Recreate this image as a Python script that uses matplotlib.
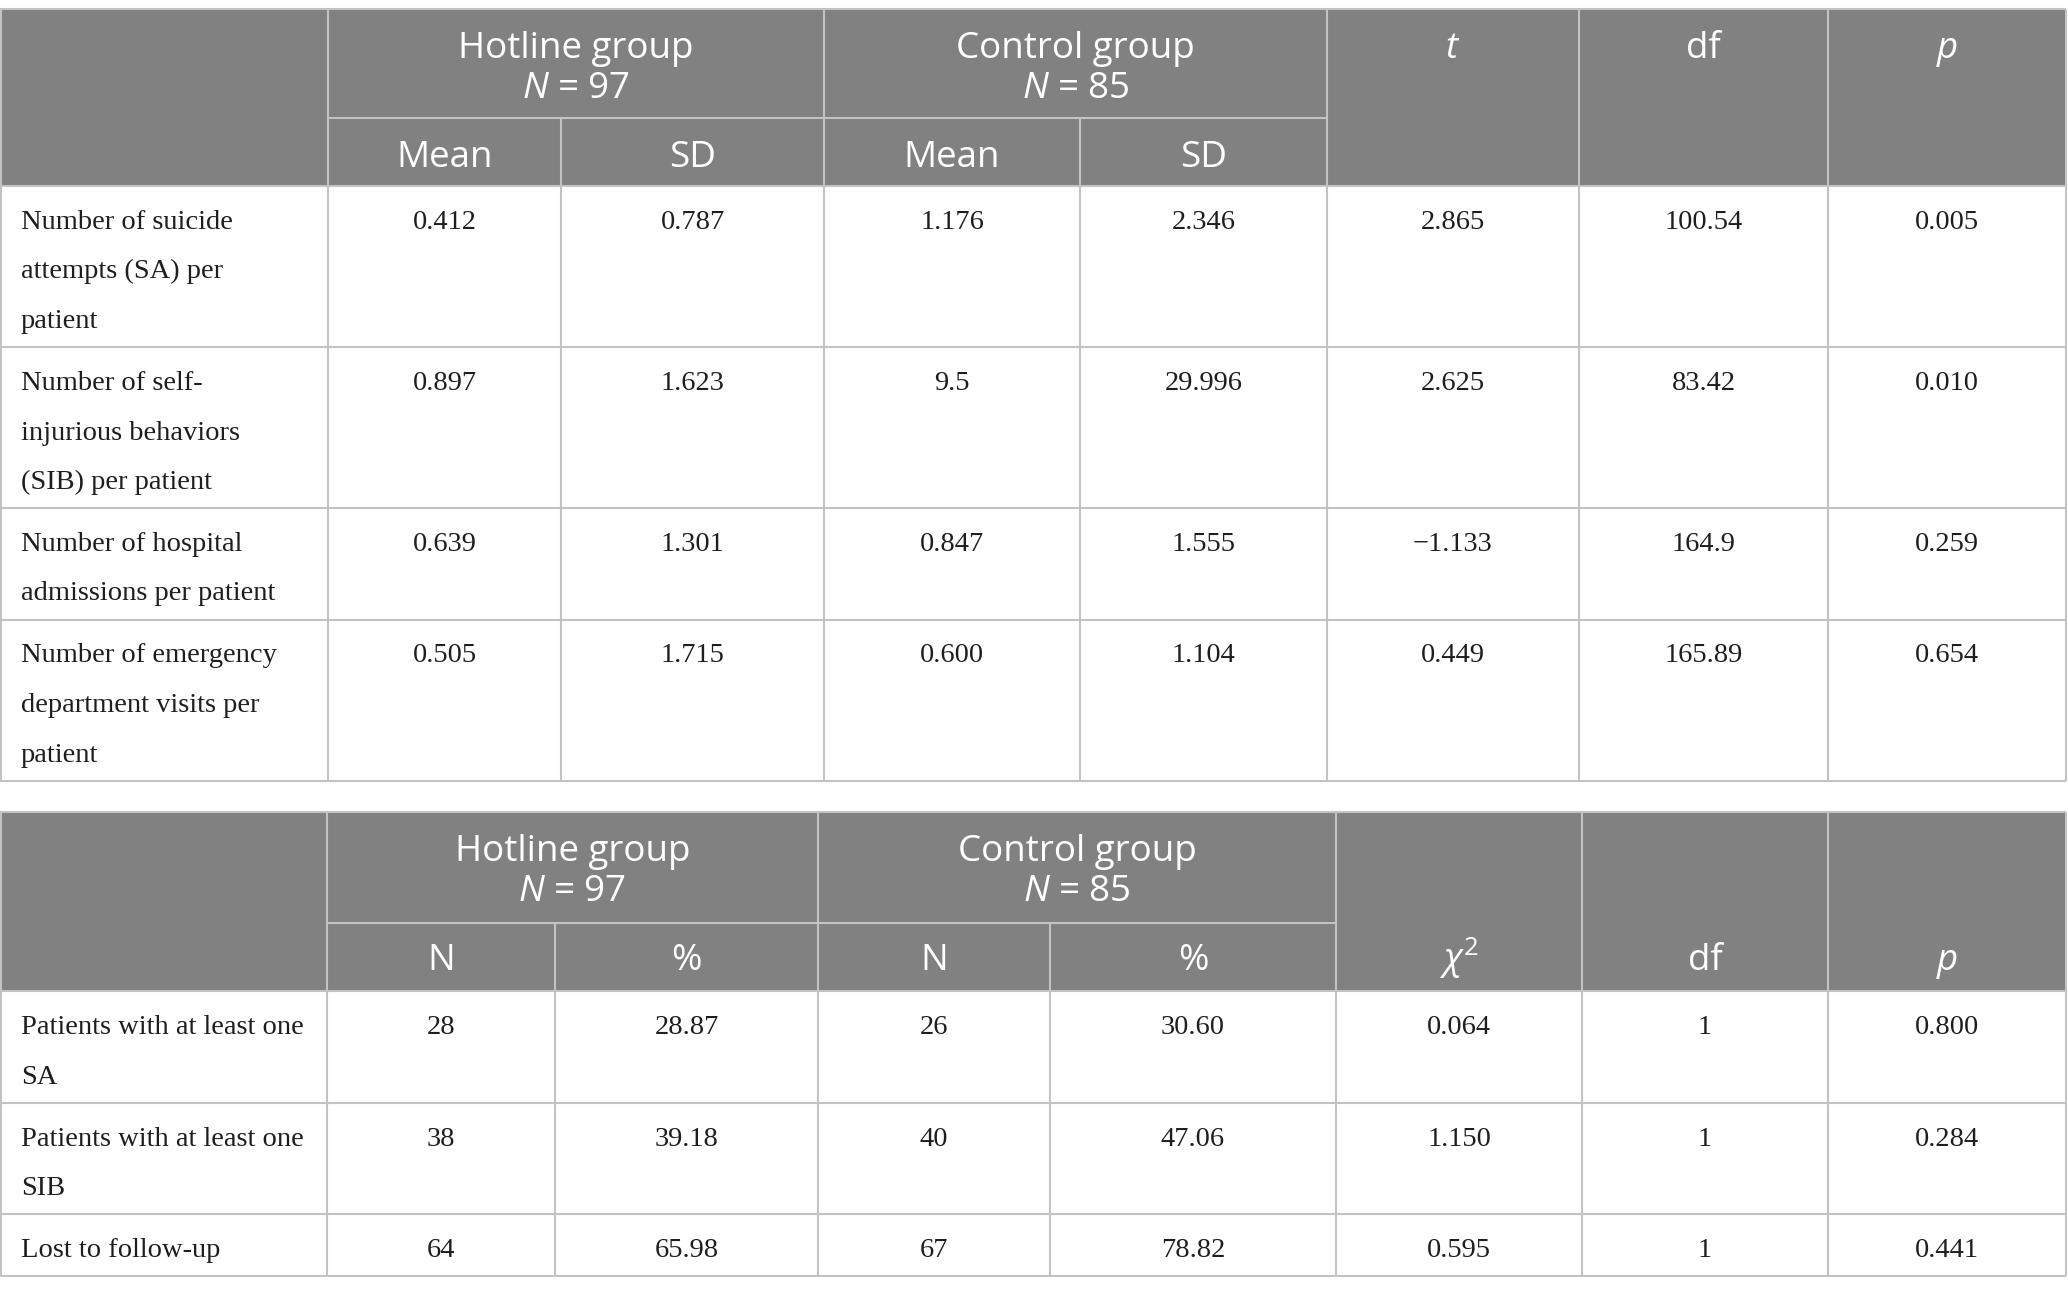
import matplotlib
matplotlib.use('Agg')
import matplotlib.pyplot as plt
from matplotlib.patches import Rectangle

# fonts: sans header, serif body, italic math for N / t / p / chi
plt.rcParams['mathtext.fontset'] = 'custom'
plt.rcParams['mathtext.rm'] = 'Open Sans'
plt.rcParams['mathtext.it'] = 'Open Sans:italic'
plt.rcParams['mathtext.fallback'] = 'cm'

HEAD_FONT = 'Open Sans'
BODY_FONT = 'Liberation Serif'
HEAD_BG = '#808180'
GRID = '#c3c3c3'
BODY_COLOR = '#1e1e1e'

# ---- table 1: counts per patient ----
groups1 = ['Hotline group', 'Control group']
group_n1 = ['$N$ = 97', '$N$ = 85']
sub_cols1 = ['Mean', 'SD', 'Mean', 'SD']
stat_cols1 = ['$t$', 'df', '$p$']
rows1 = ['Number of suicide\nattempts (SA) per\npatient',
         'Number of self-\ninjurious behaviors\n(SIB) per patient',
         'Number of hospital\nadmissions per patient',
         'Number of emergency\ndepartment visits per\npatient']
hotline_mean = ['0.412', '0.897', '0.639', '0.505']
hotline_sd = ['0.787', '1.623', '1.301', '1.715']
control_mean = ['1.176', '9.5', '0.847', '0.600']
control_sd = ['2.346', '29.996', '1.555', '1.104']
t_vals = ['2.865', '2.625', '\u22121.133', '0.449']
df_vals1 = ['100.54', '83.42', '164.9', '165.89']
p_vals1 = ['0.005', '0.010', '0.259', '0.654']

# ---- table 2: patients with events ----
groups2 = ['Hotline group', 'Control group']
group_n2 = ['$N$ = 97', '$N$ = 85']
sub_cols2 = ['N', '%', 'N', '%']
stat_cols2 = ['$\\chi^2$', 'df', '$p$']
rows2 = ['Patients with at least one\nSA',
         'Patients with at least one\nSIB',
         'Lost to follow-up']
hotline_n = ['28', '38', '64']
hotline_pct = ['28.87', '39.18', '65.98']
control_n = ['26', '40', '67']
control_pct = ['30.60', '47.06', '78.82']
chi2_vals = ['0.064', '1.150', '0.595']
df_vals2 = ['1', '1', '1']
p_vals2 = ['0.800', '0.284', '0.441']

W, H = 2068, 1293
fig = plt.figure(figsize=(W / 100, H / 100), dpi=100)
ax = fig.add_axes([0, 0, 1, 1])
ax.set_xlim(0, W)
ax.set_ylim(H, 0)
ax.axis('off')

LINE_PITCH = 49.5
HEAD_SIZE = 26.5
BODY_SIZE = 20.5
LW = 1.5


def row_height(label):
    return 62 + LINE_PITCH * (label.count('\n'))


def draw_table(top, sub_y, head_bottom, edges, groups, group_n, sub_cols,
               stat_cols, stat_on_top, labels, columns):
    right = edges[-1]
    ax.add_patch(Rectangle((0, top), right, head_bottom - top,
                           facecolor=HEAD_BG, edgecolor='none', zorder=1))

    # header text
    for g in range(2):
        cx = (edges[1 + 2 * g] + edges[3 + 2 * g]) / 2
        ax.text(cx, top + 49, groups[g], ha='center', va='baseline',
                family=HEAD_FONT, size=HEAD_SIZE, color='white', zorder=3)
        ax.text(cx, top + 89, group_n[g], ha='center', va='baseline',
                family=HEAD_FONT, size=HEAD_SIZE, color='white', zorder=3)
    for i, s in enumerate(sub_cols):
        cx = (edges[1 + i] + edges[2 + i]) / 2
        ax.text(cx, top + 158, s, ha='center', va='baseline',
                family=HEAD_FONT, size=HEAD_SIZE, color='white', zorder=3)
    for i, s in enumerate(stat_cols):
        cx = (edges[5 + i] + edges[6 + i]) / 2
        y = top + 49 if stat_on_top else top + 158
        ax.text(cx, y, s, ha='center', va='baseline',
                family=HEAD_FONT, size=HEAD_SIZE, color='white', zorder=3)

    # body rows
    y0 = head_bottom
    row_lines = [y0]
    for r, label in enumerate(labels):
        base = y0 + 43
        for k, line in enumerate(label.split('\n')):
            ax.text(21, base + k * LINE_PITCH, line, ha='left', va='baseline',
                    family=BODY_FONT, size=BODY_SIZE, color=BODY_COLOR, zorder=3)
        for c, col in enumerate(columns):
            cx = (edges[1 + c] + edges[2 + c]) / 2
            ax.text(cx, base, col[r], ha='center', va='baseline',
                    family=BODY_FONT, size=BODY_SIZE, color=BODY_COLOR, zorder=3)
        y0 += row_height(label)
        row_lines.append(y0)
    bottom = y0

    # grid lines
    kw = dict(color=GRID, lw=LW, zorder=2, solid_capstyle='butt')
    ax.plot([0, right], [top, top], **kw)
    ax.plot([edges[1], edges[5]], [sub_y, sub_y], **kw)
    for y in row_lines:
        ax.plot([0, right], [y, y], **kw)
    for i, x in enumerate(edges):
        y_start = sub_y if i in (2, 4) else top
        ax.plot([x, x], [y_start, bottom], **kw)
    return bottom


edges1 = [1, 328, 561, 824, 1080, 1327, 1579, 1828, 2066]
cols1 = [hotline_mean, hotline_sd, control_mean, control_sd,
         t_vals, df_vals1, p_vals1]
draw_table(9, 118, 186, edges1, groups1, group_n1, sub_cols1, stat_cols1,
           True, rows1, cols1)

edges2 = [1, 327, 555, 818, 1050, 1336, 1582, 1828, 2066]
cols2 = [hotline_n, hotline_pct, control_n, control_pct,
         chi2_vals, df_vals2, p_vals2]
draw_table(812, 923, 991, edges2, groups2, group_n2, sub_cols2, stat_cols2,
           False, rows2, cols2)

fig.savefig('out.png', dpi=100, facecolor='white')
plt.close(fig)
